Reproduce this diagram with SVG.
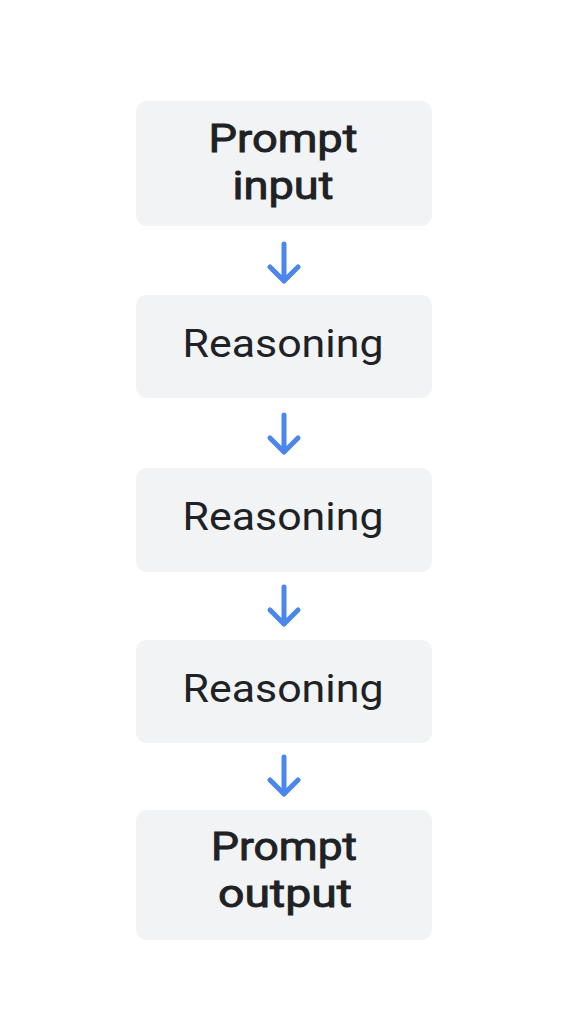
<svg xmlns="http://www.w3.org/2000/svg" width="576" height="1024" viewBox="0 0 576 1024">
<style>
.box{fill:#f1f3f4}
.t{font-family:Roboto,"Liberation Sans",sans-serif;font-size:39px;fill:#202124;text-anchor:middle}
.b{font-weight:400;stroke:#202124;stroke-width:0.9px}
.arr{fill:none;stroke:#4a86ec;stroke-width:5;stroke-linecap:round;stroke-linejoin:round}
</style>
<rect width="576" height="1024" fill="#ffffff"/>
<g id="node-prompt-input">
<rect class="box" x="136" y="101" width="296" height="125" rx="11"/>
<text class="t b" x="283" y="152" textLength="149" lengthAdjust="spacingAndGlyphs">Prompt</text>
<text class="t b" x="283" y="199" textLength="101" lengthAdjust="spacingAndGlyphs">input</text>
</g>
<g id="node-reasoning-1">
<rect class="box" x="136" y="295" width="296" height="103" rx="11"/>
<text class="t" x="283" y="357" textLength="201" lengthAdjust="spacingAndGlyphs">Reasoning</text>
</g>
<g id="node-reasoning-2">
<rect class="box" x="136" y="468" width="296" height="104" rx="11"/>
<text class="t" x="283" y="530" textLength="201" lengthAdjust="spacingAndGlyphs">Reasoning</text>
</g>
<g id="node-reasoning-3">
<rect class="box" x="136" y="640" width="296" height="103" rx="11"/>
<text class="t" x="283" y="702" textLength="201" lengthAdjust="spacingAndGlyphs">Reasoning</text>
</g>
<g id="node-prompt-output">
<rect class="box" x="136" y="810" width="296" height="130" rx="11"/>
<text class="t b" x="284" y="860" textLength="146" lengthAdjust="spacingAndGlyphs">Prompt</text>
<text class="t b" x="285" y="907" textLength="134" lengthAdjust="spacingAndGlyphs">output</text>
</g>
<g id="connectors">
<path class="arr" d="M284 244 V281 M270 267 L284 281 L298 267"/>
<path class="arr" d="M284 415 V452 M270 438 L284 452 L298 438"/>
<path class="arr" d="M284 587 V624 M270 610 L284 624 L298 610"/>
<path class="arr" d="M284 757 V794 M270 780 L284 794 L298 780"/>
</g>
</svg>
